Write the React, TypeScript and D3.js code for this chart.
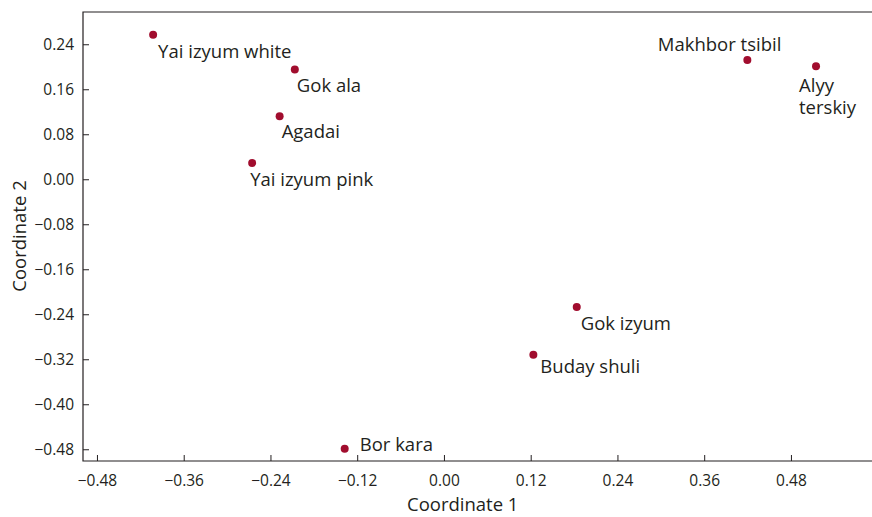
import React from "react";
import * as d3 from "d3";

const cultivars = [
  "Yai izyum white",
  "Gok ala",
  "Agadai",
  "Yai izyum pink",
  "Bor kara",
  "Buday shuli",
  "Gok izyum",
  "Makhbor tsibil",
  "Alyy terskiy",
];
const coord1 = [-0.403, -0.207, -0.228, -0.266, -0.138, 0.123, 0.183, 0.419, 0.514];
const coord2 = [0.258, 0.196, 0.113, 0.030, -0.478, -0.311, -0.226, 0.213, 0.202];

const xTicks = [-0.48, -0.36, -0.24, -0.12, 0, 0.12, 0.24, 0.36, 0.48];
const yTicks = [0.24, 0.16, 0.08, 0, -0.08, -0.16, -0.24, -0.32, -0.4, -0.48];

// where each label sits relative to its dot (px)
const labelPos: Record<string, { dx: number; dy: number; anchor?: string; lines?: string[] }> = {
  "Yai izyum white": { dx: 5, dy: 23 },
  "Gok ala": { dx: 2, dy: 22 },
  "Agadai": { dx: 2, dy: 22 },
  "Yai izyum pink": { dx: -2, dy: 23 },
  "Bor kara": { dx: 15, dy: 2 },
  "Buday shuli": { dx: 7, dy: 18 },
  "Gok izyum": { dx: 4, dy: 23 },
  "Makhbor tsibil": { dx: 34, dy: -9, anchor: "end" },
  "Alyy terskiy": { dx: -17, dy: 26, lines: ["Alyy", "terskiy"] },
};

const W = 872;
const H = 517;
const left = 83;
const top = 12;
const bottom = 461;
const ink = "#231f20";
const dotColor = "#a10d2e";
const font = "'Open Sans', sans-serif";

const fmt = (v: number) => d3.format(".2f")(v).replace("-", "\u2212");

export default function App() {
  const x = d3.scaleLinear().domain([-0.5, 0.6]).range([left, left + 1.1 * 722.9]);
  const y = d3.scaleLinear().domain([-0.5, 0.3]).range([bottom, bottom - 0.8 * 562.5]);

  return (
    <svg
      width={W}
      height={H}
      style={{ position: "absolute", left: 0, top: 0, background: "#fff" }}
      fontFamily={font}
    >
      {/* frame */}
      <path
        d={`M${W},${top}H${left}V${bottom}H${W}`}
        fill="none"
        stroke={ink}
        strokeWidth={1.2}
      />
      {xTicks.map((t) => (
        <g key={"x" + t}>
          <line x1={x(t)} x2={x(t)} y1={bottom} y2={bottom - 6} stroke={ink} strokeWidth={1} />
          <text x={x(t)} y={bottom + 25} textAnchor="middle" fontSize={15.5} fill={ink}>
            {fmt(t)}
          </text>
        </g>
      ))}
      {yTicks.map((t) => (
        <g key={"y" + t}>
          <line x1={left} x2={left + 6} y1={y(t)} y2={y(t)} stroke={ink} strokeWidth={1} />
          <text x={left - 9} y={y(t)} dy="0.36em" textAnchor="end" fontSize={15.5} fill={ink}>
            {fmt(t)}
          </text>
        </g>
      ))}
      <text x={407} y={511} textAnchor="start" fontSize={18.5} fill={ink}>
        Coordinate 1
      </text>
      <text
        transform={`translate(26,236) rotate(-90)`}
        textAnchor="middle"
        fontSize={18.5}
        fill={ink}
      >
        Coordinate 2
      </text>

      {cultivars.map((name, i) => {
        const cx = x(coord1[i]);
        const cy = y(coord2[i]);
        const p = labelPos[name];
        const lines = p.lines || [name];
        return (
          <g key={name}>
            <circle cx={cx} cy={cy} r={4} fill={dotColor} />
            {lines.map((l, k) => (
              <text
                key={k}
                x={cx + p.dx}
                y={cy + p.dy + k * 22}
                textAnchor={p.anchor || "start"}
                fontSize={18.5}
                fill={ink}
              >
                {l}
              </text>
            ))}
          </g>
        );
      })}
    </svg>
  );
}
